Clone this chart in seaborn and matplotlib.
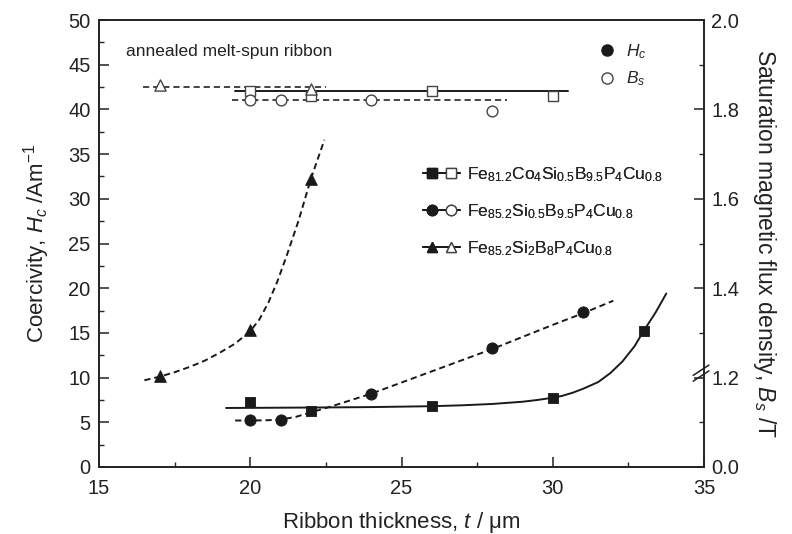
#! /usr/bin/env python3

import numpy as np
import pandas as pd
import matplotlib as mpl
mpl.use('agg')
import matplotlib.pyplot as plt
from matplotlib.lines import Line2D
from matplotlib.legend_handler import HandlerTuple
import seaborn as sns

sns.set_theme(context='notebook', style='ticks')
plt.rcParams['font.family'] = ['Liberation Sans', 'DejaVu Sans']
plt.rcParams['mathtext.fontset'] = 'custom'
plt.rcParams['mathtext.rm'] = 'Liberation Sans'
plt.rcParams['mathtext.it'] = 'Liberation Sans:italic'

# --- coercivity data (filled markers)
t_sq = [20, 22, 26, 30, 33]
hc_sq = [7.3, 6.3, 6.8, 7.7, 15.2]
t_ci = [20, 21, 24, 28, 31]
hc_ci = [5.2, 5.2, 8.2, 13.3, 17.3]
t_tr = [17, 20, 22]
hc_tr = [10.2, 15.3, 32.2]

# guide curves for Hc
curve_sq_t = [19.2, 22, 24, 26, 27, 28, 29, 29.5, 30, 30.3, 30.65, 31, 31.5, 31.9,
              32.3, 32.7, 33, 33.4, 33.75]
curve_sq_hc = [6.6, 6.65, 6.7, 6.8, 6.9, 7.05, 7.3, 7.5, 7.75, 7.95, 8.3, 8.75, 9.5, 10.5,
               11.8, 13.5, 15.2, 17.3, 19.4]
curve_ci_t = [19.5, 20, 20.5, 21, 21.5, 22, 22.7, 24, 26, 28, 30, 31, 32]
curve_ci_hc = [5.2, 5.2, 5.22, 5.3, 5.6, 6.1, 6.8, 8.2, 10.7, 13.2, 15.9, 17.2, 18.6]
curve_tr_t = [16.5, 17, 17.5, 18, 18.5, 19, 19.5, 20, 20.3, 20.6, 20.9, 21.2, 21.6, 22, 22.45]
curve_tr_hc = [9.7, 10.1, 10.6, 11.2, 11.9, 12.8, 13.8, 15.2, 16.5, 18.4, 20.8, 23.6, 27.6,
               32.2, 36.6]

# --- saturation flux density data (open markers)
bs_t_sq = [20, 22, 26, 30]
bs_sq = [1.842, 1.83, 1.841, 1.83]
bs_t_ci = [20, 21, 24, 28]
bs_ci = [1.821, 1.821, 1.821, 1.796]
bs_t_tr = [17, 22]
bs_tr = [1.854, 1.846]

# Bs guide lines (start, end)
bs_line_sq_t = [19.5, 30.5]
bs_line_sq = [1.842, 1.842]
bs_line_ci_t = [19.4, 28.5]
bs_line_ci = [1.821, 1.821]
bs_line_tr_t = [16.45, 22.5]
bs_line_tr = [1.85, 1.85]

names = [r'Fe$_{81.2}$Co$_4$Si$_{0.5}$B$_{9.5}$P$_4$Cu$_{0.8}$',
         r'Fe$_{85.2}$Si$_{0.5}$B$_{9.5}$P$_4$Cu$_{0.8}$',
         r'Fe$_{85.2}$Si$_2$B$_8$P$_4$Cu$_{0.8}$']

k = '#1a1a1a'
g = '#444444'
tc = '#222222'
dash = (3.2, 2.0)

fig = plt.figure(figsize=(7.92, 5.34), dpi=100)
ax = fig.add_axes([0.125, 0.1255, 0.764, 0.837])
ax2 = ax.twinx()

# Hc curves
sns.lineplot(x=curve_sq_t, y=curve_sq_hc, ax=ax, color=k, lw=1.4, sort=False)
sns.lineplot(x=curve_ci_t, y=curve_ci_hc, ax=ax, color=k, lw=1.4, sort=False).lines[-1].set_dashes(dash)
sns.lineplot(x=curve_tr_t, y=curve_tr_hc, ax=ax, color=k, lw=1.4, sort=False).lines[-1].set_dashes(dash)

sns.scatterplot(x=t_sq, y=hc_sq, ax=ax, marker='s', s=60, color=k, edgecolor=k, zorder=5)
sns.scatterplot(x=t_ci, y=hc_ci, ax=ax, marker='o', s=65, color=k, edgecolor=k, zorder=5)
sns.scatterplot(x=t_tr, y=hc_tr, ax=ax, marker='^', s=70, color=k, edgecolor=k, zorder=5)

# Bs lines and points
sns.lineplot(x=bs_line_sq_t, y=bs_line_sq, ax=ax2, color=k, lw=1.4)
sns.lineplot(x=bs_line_ci_t, y=bs_line_ci, ax=ax2, color=g, lw=1.4).lines[-1].set_dashes(dash)
sns.lineplot(x=bs_line_tr_t, y=bs_line_tr, ax=ax2, color=g, lw=1.4).lines[-1].set_dashes(dash)

sns.scatterplot(x=bs_t_sq, y=bs_sq, ax=ax2, marker='s', s=55, facecolor='white', edgecolor=g, linewidth=1.0, zorder=5)
sns.scatterplot(x=bs_t_ci, y=bs_ci, ax=ax2, marker='o', s=60, facecolor='white', edgecolor=g, linewidth=1.0, zorder=5)
sns.scatterplot(x=bs_t_tr, y=bs_tr, ax=ax2, marker='^', s=65, facecolor='white', edgecolor=g, linewidth=1.0, zorder=5)

# axes
ax.set_xlim(15, 35)
ax.set_ylim(0, 50)
ax.set_xticks([15, 20, 25, 30, 35])
ax.set_xticks(np.arange(17.5, 35, 5), minor=True)
ax.set_yticks(np.arange(0, 51, 5))
ax.set_yticks(np.arange(2.5, 50, 5), minor=True)
ax2.set_ylim(1.0, 2.0)
ax2.set_yticks([1.0, 1.2, 1.4, 1.6, 1.8, 2.0])
ax2.set_yticklabels(['0.0', '1.2', '1.4', '1.6', '1.8', '2.0'])
ax2.set_yticks([1.1, 1.3, 1.5, 1.7, 1.9], minor=True)

for a in (ax, ax2):
    a.tick_params(which='major', direction='in', length=7, width=1.1, labelsize=14.5, colors=tc)
    a.tick_params(which='minor', direction='in', length=3.5, width=1.0)
    for s in a.spines.values():
        s.set_linewidth(1.2)
        s.set_color(tc)
ax.tick_params(axis='y', pad=6)
ax.tick_params(axis='x', pad=9)
ax2.tick_params(axis='y', pad=5)

ax.set_xlabel(r'Ribbon thickness, $t$ / $\mathrm{\mu}$m', fontsize=16, color=tc, labelpad=8)
ax.set_ylabel(r'Coercivity, $H_c$ /Am$^{-1}$', fontsize=16, color=tc, labelpad=12)
ax2.set_ylabel(r'Saturation magnetic flux density, $B_s$ /T', fontsize=16.5,
               color=tc, rotation=270, labelpad=28)

# axis break marks on the right spine
for dy in (0.0, 0.013):
    ax2.plot([0.982, 1.008], [0.192 + dy, 0.215 + dy], transform=ax2.transAxes,
             color=tc, lw=1.1, clip_on=False)

ax.text(0.045, 0.93, 'annealed melt-spun ribbon', transform=ax.transAxes,
        fontsize=12.5, color=tc, va='center', ha='left')

# compound legend
handles = [
    (Line2D([], [], color=k, lw=1.4, marker='s', ms=7, mfc=k, mec=k),
     Line2D([], [], color=k, lw=1.4, marker='s', ms=7, mfc='white', mec=g)),
    (Line2D([], [], color=k, lw=1.4, marker='o', ms=7.5, mfc=k, mec=k),
     Line2D([], [], color=k, lw=1.4, marker='o', ms=7.5, mfc='white', mec=g)),
    (Line2D([], [], color=k, lw=1.4, marker='^', ms=7.5, mfc=k, mec=k),
     Line2D([], [], color=k, lw=1.4, marker='^', ms=7.5, mfc='white', mec=g)),
]
leg = ax.legend(handles, names, handler_map={tuple: HandlerTuple(ndivide=None, pad=0.0)},
                loc='upper left', bbox_to_anchor=(0.51, 0.71), frameon=False,
                fontsize=12.5, handlelength=2.1, handletextpad=0.4, labelspacing=1.05)
ax.add_artist(leg)

sym = [Line2D([], [], ls='none', marker='o', ms=8, mfc=k, mec=k),
       Line2D([], [], ls='none', marker='o', ms=8, mfc='white', mec=g)]
ax2.legend(sym, [r'$H_c$', r'$B_s$'], loc='upper left', bbox_to_anchor=(0.8, 0.985),
           frameon=False, fontsize=12.5, handlelength=1.0, handletextpad=0.6, labelspacing=0.5)

fig.savefig('out.png', dpi=100)
